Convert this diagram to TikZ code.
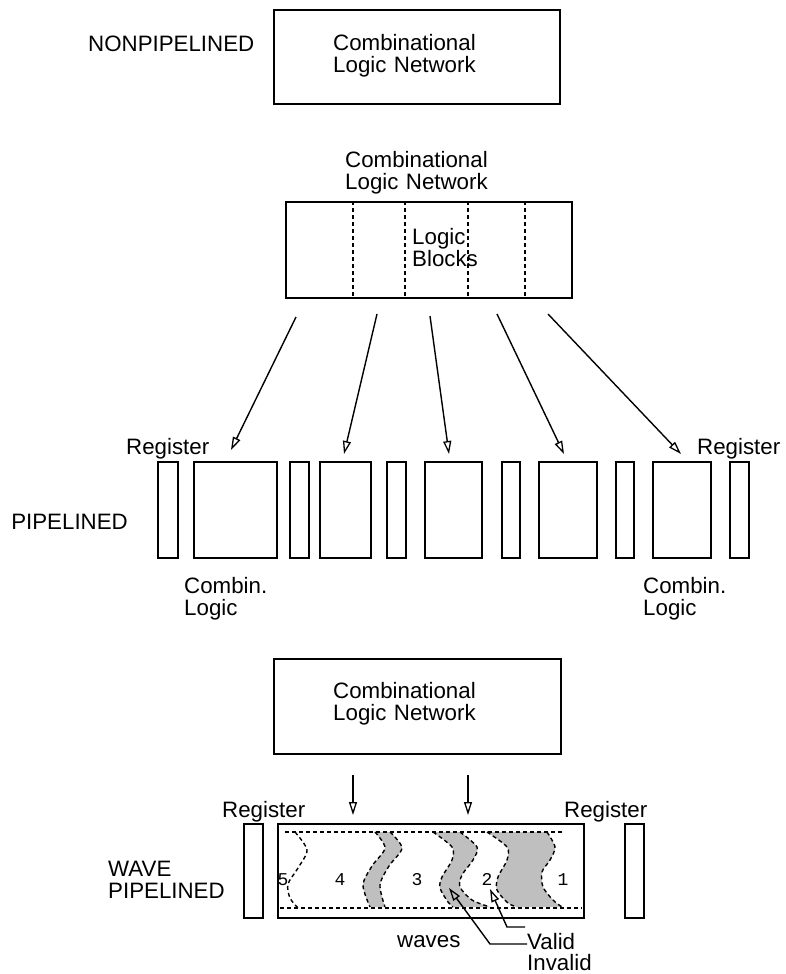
\documentclass[tikz,border=0pt]{standalone}
\usepackage{fontspec}
\setmainfont{Liberation Sans}
\newfontfamily\digitfont{Liberation Mono}
\usetikzlibrary{arrows.meta}
\begin{document}
\begin{tikzpicture}[x=1pt,y=-1pt,
  blk/.style={draw, line width=1.6pt, inner sep=0pt, anchor=north west},
  lbl/.style={font=\fontsize{22.3}{22}\selectfont, inner sep=0pt, anchor=base west},
  lbl2/.style={lbl, text width=200pt, align=left},
  num/.style={font=\digitfont\fontsize{18}{18}\selectfont, inner sep=0pt, anchor=base},
  dsh/.style={line width=1.4pt, dash pattern=on 4pt off 3pt},
  arr/.style={line width=1.4pt, -{Triangle[open, length=13pt, width=8pt, line width=1.3pt]}},
  wavefill/.style={fill=gray!50},
]
\useasboundingbox (0,0) rectangle (786,974);

% ---------- nonpipelined ----------
\node[lbl] (np) at (88,52) {NONPIPELINED};
\node[blk, minimum width=286pt, minimum height=94pt] (netA) at (273,9) {};
\node[lbl2] (netAtxt) at (333,51) {Combinational\\Logic Network};

% ---------- network split into logic blocks ----------
\node[lbl2] (netBtxt) at (345,167) {Combinational\\Logic Network};
\node[blk, minimum width=286pt, minimum height=96pt] (netB) at (285,201) {};
\foreach \xx in {353,405,468,525}
  \draw[dsh] (\xx,201) -- (\xx,297);
\node[lbl2] (blocks) at (412,244) {Logic\\Blocks};

% ---------- pipelined ----------
\node[lbl] (regL) at (126,454) {Register};
\node[lbl] (regR) at (697,454) {Register};
\node[lbl, anchor=base east] (pl) at (128,529) {PIPELINED};
\foreach \nm/\xx/\ww in {r1/157/20, c1/193/83, r2/289/19, c2/319/51, r3/386/19,
                         c3/424/57, r4/501/18, c4/538/58, r5/615/18, c5/652/58, r6/729/19}
  \node[blk, line width=1.5pt, minimum width=\ww pt, minimum height=96pt] (\nm) at (\xx,461) {};
\node[lbl2] (cbL) at (184,593) {Combin.\\Logic};
\node[lbl2] (cbR) at (643,593) {Combin.\\Logic};

\coordinate (s1) at (296,317); \coordinate (t1) at (231,450);
\coordinate (s2) at (377,314); \coordinate (t2) at (344,454);
\coordinate (s3) at (430,316); \coordinate (t3) at (449,454);
\coordinate (s4) at (497,314); \coordinate (t4) at (564,454);
\coordinate (s5) at (548,314); \coordinate (t5) at (681,454);
\foreach \i in {1,...,5}
  \draw[arr] (s\i) -- (t\i);

% ---------- wave pipelined ----------
\node[blk, minimum width=287pt, minimum height=95pt] (netC) at (273,658) {};
\node[lbl2] (netCtxt) at (333,698) {Combinational\\Logic Network};

\coordinate (d1a) at (353,775); \coordinate (d1b) at (353,815);
\coordinate (d2a) at (468,775); \coordinate (d2b) at (468,815);
\draw[arr] (d1a) -- (d1b);
\draw[arr] (d2a) -- (d2b);

\node[lbl] (wregLt) at (222,817) {Register};
\node[lbl] (wregRt) at (564,817) {Register};
\node[lbl2] (wp) at (108,876) {WAVE\\PIPELINED};

% shaded waves
\fill[wavefill] plot[smooth] coordinates {(375,832) (385,848) (372,866) (363,885) (370,907)}
  -- plot[smooth] coordinates {(385,907) (380,885) (389,866) (402,848) (390,832)} -- cycle;
\fill[wavefill] plot[smooth] coordinates {(433,832) (452,847) (452,860) (442,877) (440,888) (448,902) (453,907)}
  -- plot[smooth] coordinates {(490,907) (472,900) (460,887) (462,875) (473,860) (477,847) (460,832)} -- cycle;
\fill[wavefill] plot[smooth] coordinates {(487,832) (507,847) (507,860) (498,877) (497,890) (508,903) (517,907)}
  -- plot[smooth] coordinates {(562,907) (553,900) (543,887) (542,872) (550,860) (555,847) (547,832)} -- cycle;

% wave fronts
\draw[dsh] plot[smooth] coordinates {(295,832) (307,850) (298,868) (288,884) (290,898) (298,908)};
\draw[dsh] plot[smooth] coordinates {(375,832) (385,848) (372,866) (363,885) (370,907)};
\draw[dsh] plot[smooth] coordinates {(390,832) (402,848) (389,866) (380,885) (385,907)};
\draw[dsh] plot[smooth] coordinates {(433,832) (452,847) (452,860) (442,877) (440,888) (448,902) (453,907)};
\draw[dsh] plot[smooth] coordinates {(460,832) (477,847) (473,860) (462,875) (460,887) (472,900) (490,907)};
\draw[dsh] plot[smooth] coordinates {(487,832) (507,847) (507,860) (498,877) (497,890) (508,903) (517,907)};
\draw[dsh] plot[smooth] coordinates {(547,832) (555,847) (550,860) (542,872) (543,887) (553,900) (562,907)};
\draw[dsh] (285,832) -- (563,832);
\draw[dsh] (280,908) -- (582,908);

\node[blk, line width=1.5pt, minimum width=19pt, minimum height=94pt] (wregL) at (243,823) {};
\node[blk, line width=1.5pt, minimum width=19pt, minimum height=94pt] (wregR) at (624,823) {};
\node[blk, minimum width=306pt, minimum height=94pt] (wbox) at (277,823) {};

\node[num] (n5) at (283,885) {5};
\node[num] (n4) at (340,885) {4};
\node[num] (n3) at (417,885) {3};
\node[num] (n2) at (487,885) {2};
\node[num] (n1) at (563,885) {1};

\node[lbl] (waves) at (397,947) {waves};
\node[lbl] (valid) at (527,949) {Valid};
\node[lbl] (invalid) at (527,970) {Invalid};

\coordinate (vA) at (525,927); \coordinate (vB) at (507,927); \coordinate (vT) at (490,889);
\coordinate (wA) at (527,944); \coordinate (wB) at (490,944); \coordinate (wT) at (449,888);
\draw[arr] (vA) -- (vB) -- (vT);
\draw[arr] (wA) -- (wB) -- (wT);
\end{tikzpicture}
\end{document}
